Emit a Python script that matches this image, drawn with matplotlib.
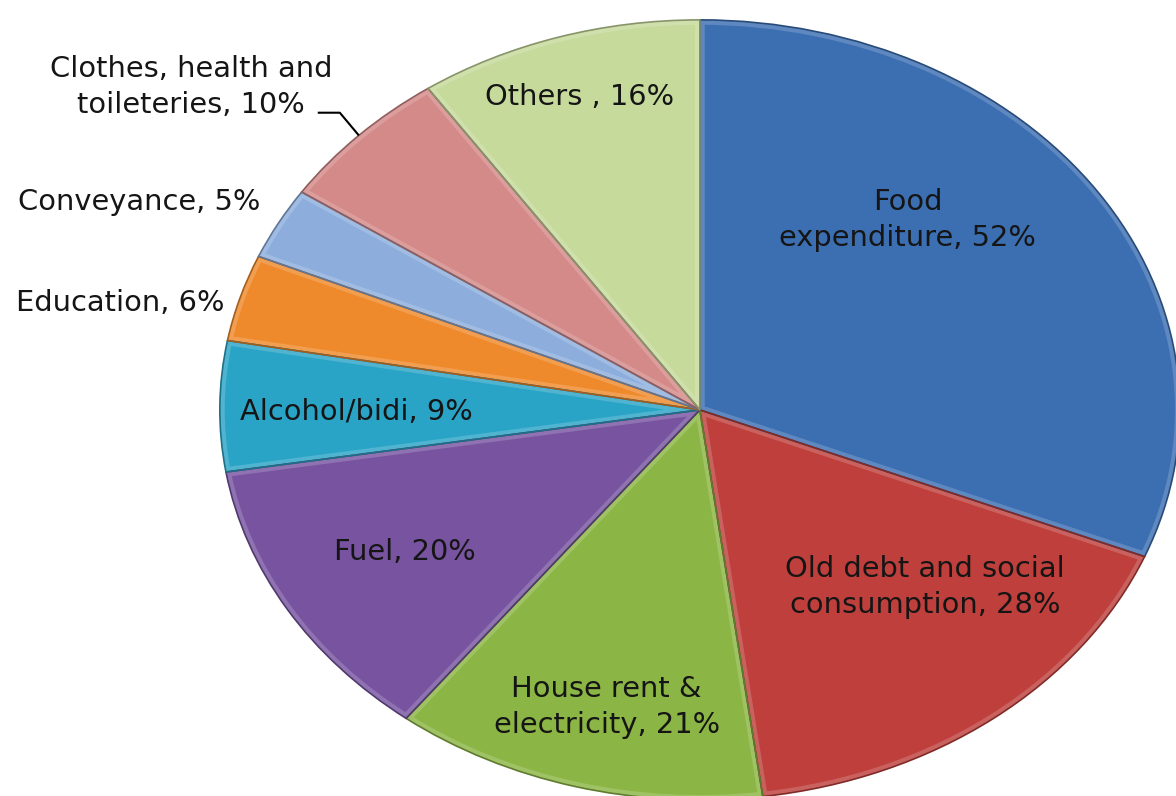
import numpy as np
import matplotlib
matplotlib.use("Agg")
import matplotlib.pyplot as plt
from matplotlib.colors import to_rgb
from matplotlib.patches import PathPatch

# monthly household expenditure shares (% of income), clockwise from 12 o'clock
categories = [
    "Food\nexpenditure, 52%",
    "Old debt and social\nconsumption, 28%",
    "House rent &\nelectricity, 21%",
    "Fuel, 20%",
    "Alcohol/bidi, 9%",
    "Education, 6%",
    "Conveyance, 5%",
    "Clothes, health and\ntoileteries, 10%",
    "Others , 16%",
]
shares = [52, 28, 21, 20, 9, 6, 5, 10, 16]
colors = ["#3B6FB2", "#BE3F3B", "#8BB544", "#7753A0", "#2AA4C6",
          "#EF8A2C", "#8DAEDD", "#D48A89", "#C6DA9B"]

# where each label sits (data units of the stretched pie)
label_pos = [(0.433, 0.487), (0.469, -0.454), (-0.194, -0.762), (-0.615, -0.364),
             (-0.715, -0.005), (-1.208, 0.274), (-1.167, 0.533), (-1.060, 0.828),
             (-0.250, 0.803)]


def shade(c, f):
    r, g, b = to_rgb(c)
    if f >= 1:
        t = f - 1
        return (r + (1 - r) * t, g + (1 - g) * t, b + (1 - b) * t)
    return (r * f, g * f, b * f)


fig = plt.figure(figsize=(11.76, 7.96), dpi=100)
ax = fig.add_axes([0, 0, 1, 1])

wedges, _ = ax.pie(shares, colors=colors, startangle=90, counterclock=False,
                   radius=1.0, wedgeprops=dict(linewidth=0))

# soft bevel: light band inside each slice, dark outline on top
for w, c in zip(wedges, colors):
    band = PathPatch(w.get_path(), transform=w.get_transform(), facecolor="none",
                     edgecolor=shade(c, 1.3), linewidth=7, alpha=0.6, zorder=w.get_zorder())
    band.set_clip_path(w)
    ax.add_patch(band)
    rim = PathPatch(w.get_path(), transform=w.get_transform(), facecolor="none",
                    edgecolor=shade(c, 0.68), linewidth=1.2, zorder=w.get_zorder() + 0.1)
    ax.add_patch(rim)

# pie is drawn as a wide ellipse
ax.set_aspect("auto")
ax.set_xlim(-1.458, 0.992)
ax.set_ylim(-0.990, 1.051)
ax.axis("off")

for txt, (x, y) in zip(categories, label_pos):
    ax.text(x, y, txt, ha="center", va="center", multialignment="center",
            fontsize=20.8, color="#151515", linespacing=1.33, zorder=5)

# leader line for the clothes label
w = wedges[7]
mid = np.deg2rad((w.theta1 + w.theta2) / 2)
tip = (np.cos(mid), np.sin(mid))
ax.plot([-0.796, -0.750, tip[0]], [0.762, 0.762, tip[1]], color="black", lw=1.5,
        solid_capstyle="butt", zorder=5)

fig.savefig("out.png", dpi=100)
